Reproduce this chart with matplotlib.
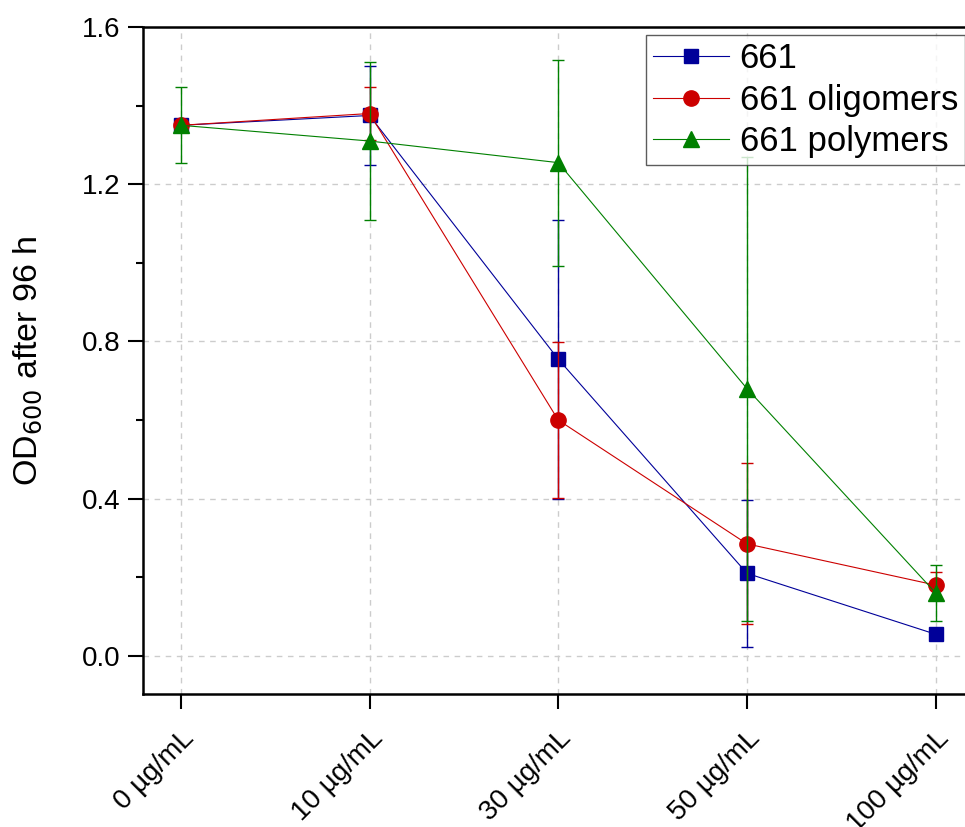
import numpy as np
import matplotlib.pyplot as plt
import matplotlib.transforms as mtransforms
from matplotlib.ticker import MultipleLocator

plt.rcParams['font.family'] = ['Liberation Sans', 'DejaVu Sans']

conc = ['0 µg/mL', '10 µg/mL', '30 µg/mL', '50 µg/mL', '100 µg/mL']

od_661 = [1.35, 1.375, 0.755, 0.21, 0.055]
err_661 = [0.01, 0.127, 0.355, 0.187, 0.01]

od_olig = [1.35, 1.38, 0.60, 0.285, 0.18]
err_olig = [0.01, 0.068, 0.198, 0.205, 0.034]

od_poly = [1.35, 1.31, 1.255, 0.68, 0.16]
err_poly = [0.097, 0.20, 0.262, 0.59, 0.072]

series = [
    ('661', od_661, err_661, '#000099', 's', 10),
    ('661 oligomers', od_olig, err_olig, '#cc0000', 'o', 11),
    ('661 polymers', od_poly, err_poly, '#008000', '^', 12),
]

fig = plt.figure(figsize=(9.65, 8.27), dpi=100)
ax = fig.add_axes([0.1482, 0.1608, 0.8606, 0.8065])

x = np.arange(len(conc))
for name, y, e, col, mk, ms in series:
    ax.errorbar(x, y, yerr=e, fmt='none', ecolor=col, elinewidth=1.0,
                capsize=4.5, capthick=1.0)
    ax.plot(x, y, color=col, lw=0.8, marker=mk, ms=ms, mec=col, mfc=col,
            label=name)

ax.set_xlim(-0.2, 4.2)
ax.set_ylim(-0.097, 1.6)
ax.set_xticks(x)
ax.set_xticklabels(conc, rotation=45, ha='right', rotation_mode='anchor',
                   fontsize=20.5)
# nudge the slanted labels a little to the right of their ticks
shift = mtransforms.ScaledTranslation(9 / 72, 0, fig.dpi_scale_trans)
for lab in ax.get_xticklabels():
    lab.set_transform(lab.get_transform() + shift)
ax.yaxis.set_major_locator(MultipleLocator(0.4))
ax.yaxis.set_minor_locator(MultipleLocator(0.2))
ax.yaxis.set_major_formatter(plt.FormatStrFormatter('%.1f'))

ax.grid(True, color='#cccccc', ls=(0, (4, 4)), lw=1.0)
ax.set_axisbelow(True)

ax.tick_params(axis='both', which='major', direction='out', length=10.5,
               width=1.5, labelsize=20)
ax.tick_params(axis='y', which='minor', direction='out', length=5, width=1.5)
ax.tick_params(axis='y', which='major', pad=6)
ax.tick_params(axis='x', pad=12)
for s in ['left', 'bottom', 'top']:
    ax.spines[s].set_linewidth(1.8)
ax.spines['right'].set_visible(False)

ax.set_ylabel('OD$_{600}$ after 96 h', fontsize=24.5, labelpad=26)

leg = ax.legend(loc='upper right', bbox_to_anchor=(0.9898, 0.988),
                fontsize=25, frameon=True, fancybox=False, edgecolor='#333333',
                handlelength=2.2, handletextpad=0.3, borderpad=0.2,
                labelspacing=0.25, borderaxespad=0)
leg.get_frame().set_linewidth(1.0)

fig.savefig('out.png', dpi=100)
